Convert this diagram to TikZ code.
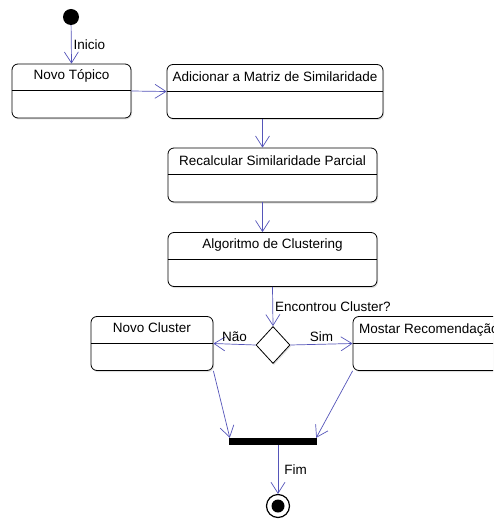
\documentclass[tikz,border=0pt]{standalone}
\usepackage{fontspec}
\setmainfont{Liberation Sans}
\usetikzlibrary{arrows.meta,shapes.geometric,shadows,calc}
\definecolor{flowblue}{RGB}{85,85,185}

\begin{document}
\begin{tikzpicture}[x=1pt,y=-1pt,
        font=\fontsize{13.5}{15}\selectfont,
        activity/.style={draw=black, line width=0.8pt, rounded corners=6pt, fill=white,
            inner sep=0pt, minimum height=54pt, minimum width=#1,
            drop shadow={shadow xshift=1pt, shadow yshift=-1.5pt, opacity=0.25}},
        flow/.style={draw=flowblue, line width=0.7pt, -{Straight Barb[length=11pt,width=14pt]}},
        tag/.style={inner sep=2pt}]
        \useasboundingbox (0,0) rectangle (493,521);
        \clip (0,0) rectangle (493,521);
        % initial and final states
        \node [circle, fill=black, minimum size=16pt, inner sep=0pt] (start) at (71,17) {};
        \node [circle, draw=black, line width=1.2pt, fill=white, minimum size=23pt, inner sep=0pt] (stop) at (278,506) {};
        \node [circle, fill=black, minimum size=13pt, inner sep=0pt] (stopDot) at (stop) {};
        % activities
        \node [activity=119pt] (novo) at (71.5,91) {};
        \node [activity=216pt] (adic) at (275,91.5) {};
        \node [activity=209pt] (recalc) at (272.5,175) {};
        \node [activity=209pt] (algo) at (272.5,259.5) {};
        \node [activity=122pt] (cluster) at (152,343.5) {};
        \node [activity=210pt] (mostrar) at (458,343.5) {};
        \foreach \a in {novo,adic,recalc,algo,cluster,mostrar}
            \draw [black, line width=0.8pt] ($(\a.north west)+(0,27)$) -- ($(\a.north east)+(0,27)$);
        \node (novoT) at ($(novo.north)+(0,12)$) {Novo Tópico};
        \node (adicT) at ($(adic.north)+(0,13)$) {Adicionar a Matriz de Similaridade};
        \node (recalcT) at ($(recalc.north)+(0,13)$) {Recalcular Similaridade Parcial};
        \node (algoT) at ($(algo.north)+(0,13)$) {Algoritmo de Clustering};
        \node (clusterT) at ($(cluster.north)+(0,12)$) {Novo Cluster};
        \node [anchor=west] (mostrarT) at ($(mostrar.north west)+(3,14)$) {Mostar Recomendação};
        % decision and join
        \node [diamond, draw=black, line width=0.8pt, fill=white, minimum width=34pt, minimum height=37pt,
            inner sep=0pt, drop shadow={shadow xshift=1pt, shadow yshift=-1.5pt, opacity=0.25}] (dec) at (273,345) {};
        \node [fill=black, minimum width=88pt, minimum height=7pt, inner sep=0pt] (join) at (273,441.5) {};
        % transitions
        \draw [flow] (start) -- (novo.north) node [midway, right, tag] {Inicio};
        \draw [flow] (novo.east) -- (adic.west);
        \draw [flow] ([xshift=-10pt]recalc.north |- adic.south) -- ([xshift=-10pt]recalc.north);
        \draw [flow] ([xshift=-10pt]recalc.south) -- ([xshift=-10pt]algo.north);
        \draw [flow] (algo.south) -- (dec.north) node [midway, right, tag] {Encontrou Cluster?};
        \draw [flow] (dec.west) -- (cluster.east) node [midway, above, tag] {Não};
        \draw [flow] (dec.east) -- (mostrar.west) node [midway, above, tag] {Sim};
        \draw [flow] (cluster.south east) -- ([xshift=1pt]join.north west);
        \draw [flow] (mostrar.south west) -- ([xshift=-1pt]join.north east);
        \draw [flow] ([xshift=5pt]join.south) -- (stop.north) node [midway, right, tag, xshift=4pt] {Fim};
\end{tikzpicture}
\end{document}
